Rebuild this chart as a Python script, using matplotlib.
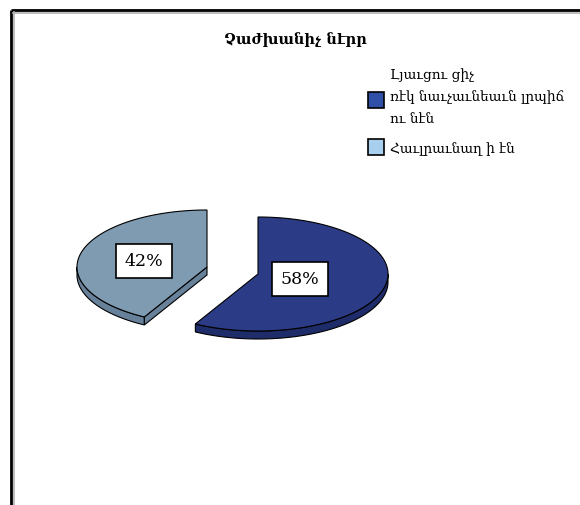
import numpy as np
import matplotlib
matplotlib.use("Agg")
import matplotlib.pyplot as plt
from matplotlib.patches import Polygon, Rectangle

plt.rcParams['font.family'] = ['DejaVu Serif', 'DejaVu Sans']

# chart data
title = "Չաժխանիչ նէրր"
labels = ["Լյաւցու ցիչ\nռէկ նաւչաւնեաւն լրպիճ\nու նէն", "Հաւլրաւնաղ ի էն"]
values = [58, 42]
top_colors = ["#2c3b86", "#7f9bb2"]
side_colors = ["#1f2c6a", "#67819a"]
legend_colors = ["#3050a8", "#a9cfee"]

W, H = 580, 506
fig = plt.figure(figsize=(W / 100, H / 100), dpi=100)
ax = fig.add_axes([0, 0, 1, 1])
ax.set_xlim(0, W)
ax.set_ylim(H, 0)
ax.axis("off")

# frame (top and left edge with a soft shadow)
ax.plot([11, 11], [11, H], color="black", lw=2.0, solid_capstyle="butt")
ax.plot([11, W], [11, 11], color="black", lw=2.0, solid_capstyle="butt")
ax.plot([13.5, 13.5], [13, H], color="#b0b0b0", lw=1.2)
ax.plot([13, W], [13.5, 13.5], color="#b0b0b0", lw=1.2)

ax.text(295, 40, title, ha="center", va="center", fontsize=10.5, fontweight="bold")

# pie geometry (angles clockwise from 12 o'clock)
rx, ry, depth = 130, 57, 8
centers = [(258, 275), (207, 268)]
fracs = np.array(values) / sum(values)
bounds = np.concatenate([[0], np.cumsum(fracs) * 360])


def pt(c, th, dy=0):
    t = np.radians(th)
    return c[0] + rx * np.sin(t), c[1] - ry * np.cos(t) + dy


for i in range(len(values)):
    c = centers[i]
    a0, a1 = bounds[i], bounds[i + 1]
    # outer rim on the front half
    f0, f1 = max(a0, 90), min(a1, 270)
    if f1 > f0:
        th = np.linspace(f0, f1, 80)
        upper = [pt(c, t) for t in th]
        lower = [pt(c, t, depth) for t in th[::-1]]
        ax.add_patch(Polygon(upper + lower, closed=True, fc=side_colors[i],
                             ec="black", lw=0.8, zorder=2))
    # cut face of the slice that faces the viewer
    if i == 1:
        e = pt(c, a0)
        face = [c, e, (e[0], e[1] + depth), (c[0], c[1] + depth)]
        ax.add_patch(Polygon(face, closed=True, fc=side_colors[i],
                             ec="black", lw=0.8, zorder=2))
    th = np.linspace(a0, a1, 200)
    top = [c] + [pt(c, t) for t in th]
    ax.add_patch(Polygon(top, closed=True, fc=top_colors[i],
                         ec="black", lw=0.8, zorder=3))

# percentage labels
label_pos = [(300, 280), (144, 262)]
for v, (x, y) in zip(values, label_pos):
    ax.text(x, y, f"{v}%", ha="center", va="center", fontsize=12.5, zorder=5,
            bbox=dict(boxstyle="square,pad=0.5", fc="white", ec="black", lw=1.2))

# legend
legend_y = [101, 148]
text_y = [97, 149]
for i in range(len(labels)):
    ax.add_patch(Rectangle((368, legend_y[i] - 8), 16, 16, fc=legend_colors[i],
                           ec="black", lw=1.2, zorder=4))
    ax.text(390, text_y[i], labels[i], ha="left", va="center", fontsize=9.8,
            linespacing=1.75)

plt.savefig("out.png", dpi=100)
